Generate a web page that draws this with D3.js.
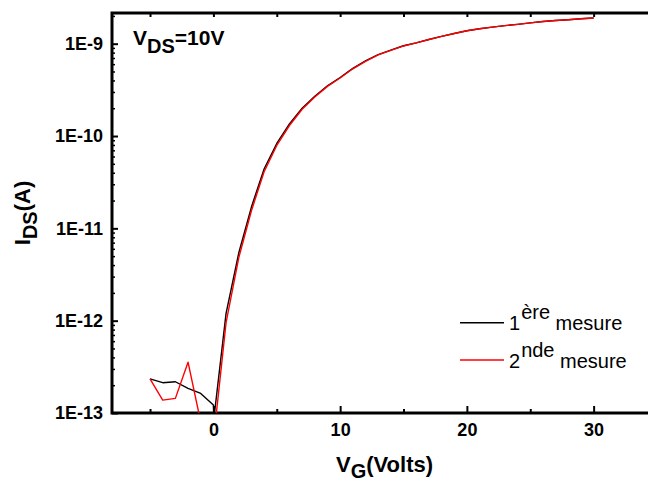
<!DOCTYPE html>
<html><head><meta charset="utf-8">
<script src="https://cdn.jsdelivr.net/npm/d3@7"></script>
<style>body{margin:0;background:#fff}svg{display:block}text{font-family:"Liberation Sans",Arial,sans-serif}</style>
</head><body><svg id="c" width="648" height="482"></svg>
<script>
const vgBlack = [-5,-4,-3,-2,-1,0,0.05,1,2,3,4,5,6,7,8,9,10,11,12,13,14,15,16,17,18,19,20,21,22,23,24,25,26,27,28,29,30];
const idsBlack = [2.34e-13,2.13e-13,2.18e-13,1.85e-13,1.63e-13,1.22e-13,9e-14,1.2e-12,5.4e-12,1.7e-11,4.4e-11,8.3e-11,1.35e-10,2.0e-10,2.7e-10,3.5e-10,4.3e-10,5.4e-10,6.5e-10,7.6e-10,8.5e-10,9.5e-10,1.02e-9,1.11e-9,1.2e-9,1.29e-9,1.38e-9,1.45e-9,1.51e-9,1.57e-9,1.62e-9,1.68e-9,1.74e-9,1.78e-9,1.82e-9,1.86e-9,1.9e-9];
const vgRed = [-5,-4,-3,-2,-1,0,1,2,3,4,5,6,7,8,9,10,11,12,13,14,15,16,17,18,19,20,21,22,23,24,25,26,27,28,29,30];
const idsRed = [2.34e-13,1.38e-13,1.44e-13,3.55e-13,8e-14,5e-14,9.5e-13,4.8e-12,1.55e-11,4.1e-11,7.9e-11,1.3e-10,1.95e-10,2.65e-10,3.45e-10,4.25e-10,5.35e-10,6.45e-10,7.55e-10,8.45e-10,9.45e-10,1.02e-9,1.11e-9,1.2e-9,1.29e-9,1.38e-9,1.45e-9,1.51e-9,1.57e-9,1.62e-9,1.68e-9,1.74e-9,1.78e-9,1.82e-9,1.86e-9,1.9e-9];
const xMajorTicks = [0,10,20,30];
const xMinorTicks = [-5,5,15,25,35];
const yMajorTicks = [1e-13,1e-12,1e-11,1e-10,1e-9];
const yTickLabels = ["1E-13","1E-12","1E-11","1E-10","1E-9"];
const seriesNames = ["1","2"];
const seriesSups = ["ère","nde"];
const seriesColors = ["#000000","#ff0000"];

const svg = d3.select("#c");
const L = 112, T = 13, R = 657, B = 413;
const x = d3.scaleLinear().domain([-8,35]).range([L,R]);
const y = d3.scaleLog().domain([1e-13,2.15e-9]).range([B,T]);

svg.append("defs").append("clipPath").attr("id","clip")
  .append("rect").attr("x",L).attr("y",T).attr("width",R-L).attr("height",B-T);

const yMinor = y.ticks().filter(v => !yMajorTicks.some(m => Math.abs(m-v)/m < 1e-6));

function styleAxis(g, sw){
  g.select(".domain").remove();
  g.selectAll(".tick line").attr("stroke","#000").attr("stroke-width",sw);
  g.selectAll(".tick text").attr("font-weight","bold").attr("font-size",18).attr("fill","#000")
   .attr("font-family","'Liberation Sans',Arial,sans-serif");
}
// bottom
svg.append("g").attr("transform",`translate(0,${B})`)
  .call(d3.axisBottom(x).tickValues(xMajorTicks).tickSize(-7).tickPadding(10).tickFormat(d3.format("d")))
  .call(g=>styleAxis(g,2));
svg.append("g").attr("transform",`translate(0,${B})`)
  .call(d3.axisBottom(x).tickValues(xMinorTicks).tickSize(-4).tickFormat(""))
  .call(g=>styleAxis(g,2));
// top
svg.append("g").attr("transform",`translate(0,${T})`)
  .call(d3.axisTop(x).tickValues(xMajorTicks.concat(xMinorTicks)).tickSize(-4).tickFormat(""))
  .call(g=>styleAxis(g,2));
// left
svg.append("g").attr("transform",`translate(${L},0)`)
  .call(d3.axisLeft(y).tickValues(yMajorTicks).tickSize(-6).tickPadding(9).tickFormat((d,i)=>yTickLabels[i]))
  .call(g=>styleAxis(g,2));
svg.append("g").attr("transform",`translate(${L},0)`)
  .call(d3.axisLeft(y).tickValues(yMinor).tickSize(-3).tickFormat(""))
  .call(g=>styleAxis(g,1.5));
// right
svg.append("g").attr("transform",`translate(${R},0)`)
  .call(d3.axisRight(y).tickValues(yMajorTicks).tickSize(-6).tickFormat(""))
  .call(g=>styleAxis(g,2));

// frame
svg.append("rect").attr("x",L).attr("y",T).attr("width",R-L).attr("height",B-T)
  .attr("fill","none").attr("stroke","#000").attr("stroke-width",3);

const line = d3.line().x(d=>x(d[0])).y(d=>y(d[1]));
const series = [d3.zip(vgBlack,idsBlack), d3.zip(vgRed,idsRed)];
const plot = svg.append("g").attr("clip-path","url(#clip)");
series.forEach((s,i)=>{
  plot.append("path").datum(s).attr("d",line).attr("fill","none")
    .attr("stroke",seriesColors[i]).attr("stroke-width",1.4).attr("stroke-linejoin","round");
});

// legend
const legY = [322.7, 360];
seriesNames.forEach((n,i)=>{
  svg.append("line").attr("x1",460).attr("x2",504).attr("y1",legY[i]).attr("y2",legY[i])
    .attr("stroke",seriesColors[i]).attr("stroke-width",1.4);
  const t = svg.append("text").attr("x",509).attr("y",legY[i]+7.5).attr("font-size",20).attr("fill","#000");
  t.append("tspan").text(n);
  t.append("tspan").attr("dx",1).attr("dy",-11).attr("font-size",20).text(seriesSups[i]);
  t.append("tspan").attr("dy",11).attr("font-size",20).text(" mesure");
});

// annotation
const ann = svg.append("text").attr("x",133).attr("y",45).attr("font-size",21).attr("font-weight","bold");
ann.append("tspan").text("V");
ann.append("tspan").attr("dy",8).attr("font-size",20).text("DS");
ann.append("tspan").attr("dy",-8).text("=10V");

// axis titles
const xt = svg.append("text").attr("x",(L+R)/2).attr("y",472).attr("text-anchor","middle")
  .attr("font-size",22).attr("font-weight","bold");
xt.append("tspan").text("V");
xt.append("tspan").attr("dy",6).attr("font-size",20).text("G");
xt.append("tspan").attr("dy",-6).text("(Volts)");

const yt = svg.append("text").attr("transform",`translate(30,${(T+B)/2}) rotate(-90)`).attr("text-anchor","middle")
  .attr("font-size",22).attr("font-weight","bold");
yt.append("tspan").text("I");
yt.append("tspan").attr("dy",7).attr("font-size",20).text("DS");
yt.append("tspan").attr("dy",-7).text("(A)");
</script></body></html>
